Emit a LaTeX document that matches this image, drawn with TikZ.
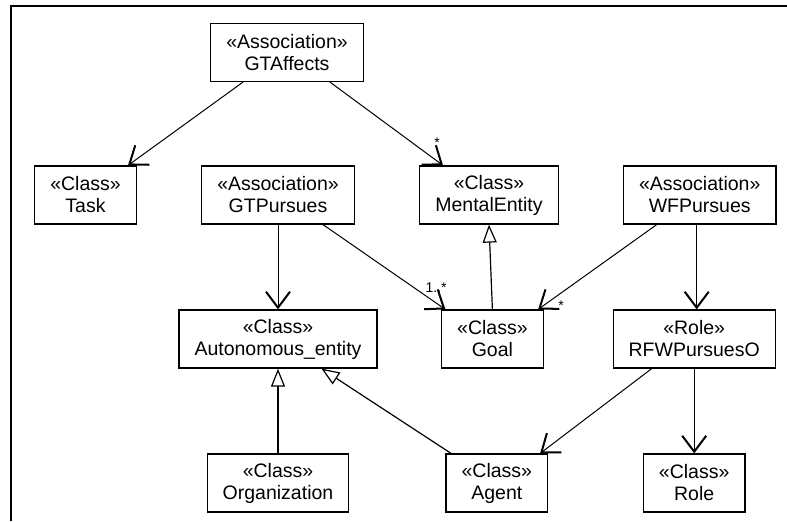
\documentclass[tikz,border=0pt]{standalone}
\usepackage{fontspec}
\setmainfont{Liberation Sans}
\usetikzlibrary{arrows.meta,positioning}

\begin{document}
\begin{tikzpicture}[node distance=72pt,on grid,
    box/.style={draw,line width=0.6pt,align=center,minimum height=29pt,
        inner xsep=7.75pt,inner ysep=2pt,font=\fontsize{9.75}{11}\selectfont},
    nav/.style={-{Straight Barb[length=8pt,width=12pt,line width=1pt]},line width=0.5pt},
    gen/.style={-{Triangle[open,length=9pt,width=7pt]},line width=0.6pt},
    mult/.style={font=\fontsize{7}{8}\selectfont,inner sep=0pt,anchor=base}]
    \useasboundingbox (0,0) rectangle (393.5pt,-260.5pt);
    \draw[line width=1.15pt] (5.65pt,-260.5pt) |- (393.5pt,-3.1pt);

    \node[box] (task) at (42.75pt,-97.5pt) {«Class»\\Task};
    \node[box] (gtpursues) [right=96.25pt of task] {«Association»\\GTPursues};
    \node[box] (mental) [right=105.5pt of gtpursues] {«Class»\\MentalEntity};
    \node[box] (wfpursues) [right=105.35pt of mental] {«Association»\\WFPursues};
    \node[box] (gtaffects) [above right=71.25pt and 4.5pt of gtpursues] {«Association»\\GTAffects};
    \node[box] (autonomous) [below=of gtpursues] {«Class»\\Autonomous\_entity};
    \node[box] (goal) [below right=72pt and 1.7pt of mental] {«Class»\\Goal};
    \node[box] (rfw) [below left=72pt and 2.75pt of wfpursues] {«Role»\\RFWPursuesO};
    \node[box] (organization) [below=of autonomous] {«Class»\\Organization};
    \node[box] (agent) [below right=72pt and 2.2pt of goal] {«Class»\\Agent};
    \node[box] (role) [below=of rfw] {«Class»\\Role};

    \path[nav]
    ([xshift=-22pt]gtaffects.south) edge ([xshift=21.25pt]task.north)
    ([xshift=21.5pt]gtaffects.south) edge ([xshift=-23pt]mental.north)
    (gtpursues.south) edge (autonomous.north)
    ([xshift=22.5pt]gtpursues.south) edge ([xshift=-23.5pt]goal.north)
    ([xshift=-21.5pt]wfpursues.south) edge ([xshift=22.85pt]goal.north)
    ([xshift=-1.5pt]wfpursues.south) edge ([xshift=1.25pt]rfw.north)
    ([xshift=-21.25pt]rfw.south) edge ([xshift=21.65pt]agent.north)
    (rfw.south) edge (role.north);

    \path[gen]
    (goal.north) edge (mental.south)
    (organization.north) edge (autonomous.south)
    ([xshift=-22.85pt]agent.north) edge ([xshift=21.75pt]autonomous.south);

    \node[mult] (m1) at ([xshift=-26pt,yshift=9pt]mental.north) {*};
    \node[mult] (m2) at ([xshift=-28.15pt,yshift=8.5pt]goal.north) {1..*};
    \node[mult] (m3) at ([xshift=32.35pt,yshift=-0.5pt]goal.north) {..*};
\end{tikzpicture}
\end{document}
